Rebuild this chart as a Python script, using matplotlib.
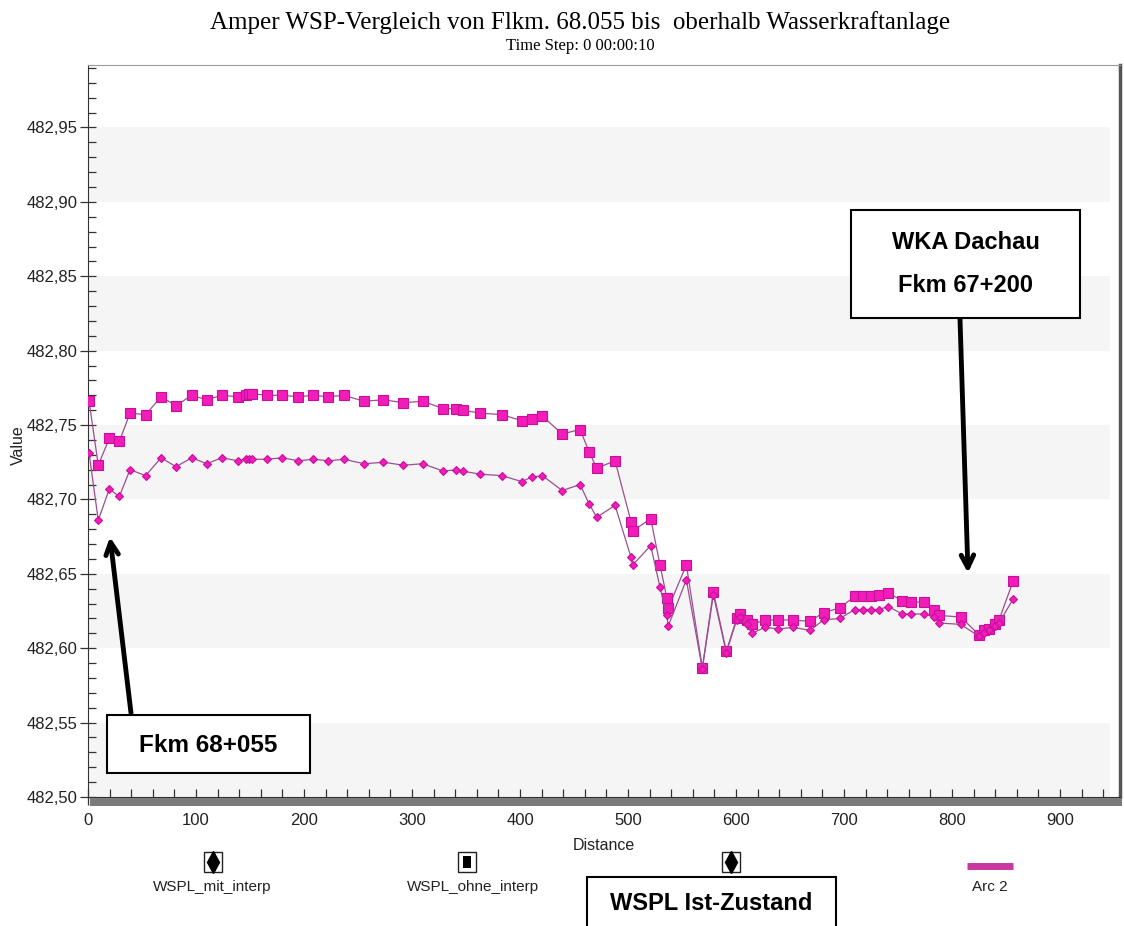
import matplotlib
matplotlib.use("Agg")
import matplotlib.pyplot as plt
from matplotlib import font_manager
from matplotlib.patches import Rectangle
from matplotlib.lines import Line2D
from matplotlib.ticker import MultipleLocator, FuncFormatter

# Distanz [m] und Wasserspiegel [m NN]
distance = [1, 9.5, 19.7, 29, 38.9, 53.4, 67.6, 81.5, 96, 109.9, 123.8, 138.6,
            146, 149.5, 152, 166, 180, 194.7, 208.6, 222.5, 237, 255.6, 273.5,
            292, 310, 329, 341, 347, 363, 383, 401.6, 410.8, 420.7, 439, 455.6,
            464, 471, 488, 502.8, 504.4, 521, 529.6, 535.8, 537.3, 554, 568.8,
            579, 591, 600.6, 603.7, 609.9, 614.5, 626.9, 639.2, 653, 668.5, 681,
            696, 710, 717.6, 725, 732, 741, 754, 761.6, 773.8, 783, 788, 808,
            825, 830, 834, 840, 843.5, 856.5]

wspl_ohne = [482.766, 482.723, 482.741, 482.739, 482.758, 482.757, 482.769,
             482.763, 482.770, 482.767, 482.770, 482.769, 482.770, 482.771,
             482.771, 482.770, 482.770, 482.769, 482.770, 482.769, 482.770,
             482.766, 482.767, 482.765, 482.766, 482.761, 482.761, 482.760,
             482.758, 482.757, 482.753, 482.754, 482.756, 482.744, 482.747,
             482.732, 482.721, 482.726, 482.685, 482.679, 482.687, 482.656,
             482.634, 482.627, 482.656, 482.587, 482.638, 482.598, 482.620,
             482.623, 482.619, 482.616, 482.619, 482.619, 482.619, 482.618,
             482.624, 482.627, 482.635, 482.635, 482.635, 482.636, 482.637,
             482.632, 482.631, 482.631, 482.626, 482.622, 482.621, 482.609,
             482.612, 482.613, 482.616, 482.619, 482.645]

wspl_mit = [482.731, 482.686, 482.707, 482.702, 482.720, 482.716, 482.728,
            482.722, 482.728, 482.724, 482.728, 482.726, 482.727, 482.727,
            482.727, 482.727, 482.728, 482.726, 482.727, 482.726, 482.727,
            482.724, 482.725, 482.723, 482.724, 482.719, 482.720, 482.719,
            482.717, 482.716, 482.712, 482.715, 482.716, 482.706, 482.710,
            482.697, 482.688, 482.696, 482.661, 482.656, 482.669, 482.641,
            482.622, 482.615, 482.646, 482.586, 482.636, 482.597, 482.619,
            482.621, 482.616, 482.610, 482.614, 482.613, 482.614, 482.612,
            482.619, 482.620, 482.626, 482.626, 482.626, 482.626, 482.628,
            482.623, 482.623, 482.623, 482.621, 482.617, 482.616, 482.608,
            482.610, 482.612, 482.615, 482.617, 482.633]

legend_labels = ["WSPL_mit_interp", "WSPL_ohne_interp", "WSPL Ist-Zustand", "Arc 2"]

# Schriften
names = {f.name for f in font_manager.fontManager.ttflist}
sans = "Liberation Sans Narrow" if "Liberation Sans Narrow" in names else "Liberation Sans"
serif = "Liberation Serif"

W, H = 1124, 926
def fx(px):
    return px / W
def fy(py):
    return 1 - py / H

fig = plt.figure(figsize=(W / 100, H / 100), dpi=100)
ax = fig.add_axes([fx(88), fy(797), fx(1120) - fx(88), fy(65) - fy(797)])

# blasse Hintergrundbaender
for lo in [482.50, 482.60, 482.70, 482.80, 482.90]:
    ax.axhspan(lo, lo + 0.05, xmin=0.0, xmax=0.99, color="#f5f5f5", zorder=0, lw=0)

mag_face = "#f21cb8"
mag_edge = "#c80f9c"
line_col = "#9b4f90"
ax.plot(distance, wspl_ohne, color=line_col, lw=0.9, marker="s", ms=6.5,
        mfc=mag_face, mec=mag_edge, mew=0.8, zorder=3)
ax.plot(distance, wspl_mit, color=line_col, lw=0.9, marker="D", ms=4.5,
        mfc=mag_face, mec=mag_edge, mew=0.8, zorder=3)

ax.set_xlim(0, 955.5)
ax.set_ylim(482.50, 482.992)
ax.xaxis.set_major_locator(MultipleLocator(100))
ax.xaxis.set_minor_locator(MultipleLocator(20))
ax.yaxis.set_major_locator(MultipleLocator(0.05))
ax.yaxis.set_minor_locator(MultipleLocator(0.01))
ax.yaxis.set_major_formatter(FuncFormatter(lambda v, p: f"{v:.2f}".replace(".", ",")))
ax.tick_params(axis="both", which="major", direction="inout", length=11,
               width=0.9, color="#333333", labelcolor="#222222")
ax.tick_params(axis="both", which="minor", direction="in", length=6,
               width=0.9, color="#333333")
ax.tick_params(axis="y", which="major", pad=2)
ax.tick_params(axis="x", which="major", pad=6)
for lab in ax.get_xticklabels() + ax.get_yticklabels():
    lab.set_family([sans, "DejaVu Sans"])
    lab.set_fontsize(12)

ax.spines["left"].set_color("#333333")
ax.spines["top"].set_color("#999999")
ax.spines["right"].set_color("#555555")
ax.spines["right"].set_linewidth(2.5)
ax.spines["bottom"].set_color("#333333")

# dunkler Schatten unter der x-Achse
fig.add_artist(Rectangle((fx(90), fy(806)), fx(1122) - fx(90), fy(798) - fy(806),
                         transform=fig.transFigure, color="#7a7a7a", lw=0, zorder=1))

# Titel
fig.text(fx(580), fy(23), "Amper WSP-Vergleich von Flkm. 68.055 bis  oberhalb Wasserkraftanlage",
         family=serif, fontsize=18, ha="center", va="center")
fig.text(fx(580), fy(46), "Time Step: 0 00:00:10", family=serif, fontsize=12,
         ha="center", va="center")
fig.text(fx(18), fy(445), "Value", family=[sans, "DejaVu Sans"], fontsize=11.5,
         rotation=90, ha="center", va="center", color="#222222")
fig.text(fx(604), fy(845), "Distance", family=[sans, "DejaVu Sans"], fontsize=11.5,
         ha="center", va="center", color="#222222")

# Legende unten
def icon_box(cx, cy):
    fig.add_artist(Rectangle((fx(cx - 9), fy(cy + 10)), fx(18), 20 / H,
                             transform=fig.transFigure, fill=False, ec="#222222", lw=1))

icon_box(213, 862)
fig.add_artist(Line2D([fx(213)], [fy(862)], marker="d", ms=11, color="black",
                      transform=fig.transFigure))
icon_box(467, 862)
fig.add_artist(Rectangle((fx(463), fy(868)), fx(8), 12 / H, transform=fig.transFigure,
                         color="black", lw=0))
icon_box(731, 862)
fig.add_artist(Line2D([fx(731)], [fy(862)], marker="d", ms=11, color="black",
                      transform=fig.transFigure))
fig.add_artist(Line2D([fx(967), fx(1013)], [fy(866), fy(866)], lw=5, color="#c8379e",
                      transform=fig.transFigure, solid_capstyle="butt"))
for cx, lab in zip([212, 473, 731, 990], legend_labels):
    fig.text(fx(cx), fy(887), lab, family=[sans, "DejaVu Sans"], fontsize=11,
             ha="center", va="center", color="#222222")

# Beschriftungsboxen
def label_box(x1, y1, x2, y2, lines, ys, size):
    fig.add_artist(Rectangle((fx(x1), fy(y2)), fx(x2) - fx(x1), fy(y1) - fy(y2),
                             transform=fig.transFigure, fc="white", ec="black", lw=1.5,
                             zorder=5))
    for txt, yy in zip(lines, ys):
        fig.text(fx((x1 + x2) / 2), fy(yy), txt, family="Liberation Sans",
                 fontweight="bold", fontsize=size, ha="center", va="center", zorder=6)

label_box(107, 715, 310, 773, ["Fkm 68+055"], [745], 17.5)
label_box(851, 210, 1080, 318, ["WKA Dachau", "Fkm 67+200"], [243, 285], 17)
label_box(587, 877, 836, 940, ["WSPL Ist-Zustand"], [904], 17)

arrow = dict(arrowstyle="->,head_length=0.9,head_width=0.45", lw=3.5, color="black",
             shrinkA=0, shrinkB=0)
ax.annotate("", xy=(110, H - 537), xytext=(131, H - 713), xycoords="figure pixels",
            textcoords="figure pixels", arrowprops=arrow, annotation_clip=False)
ax.annotate("", xy=(968, H - 573), xytext=(960, H - 319), xycoords="figure pixels",
            textcoords="figure pixels", arrowprops=arrow, annotation_clip=False)

fig.savefig("out.png", dpi=100)
